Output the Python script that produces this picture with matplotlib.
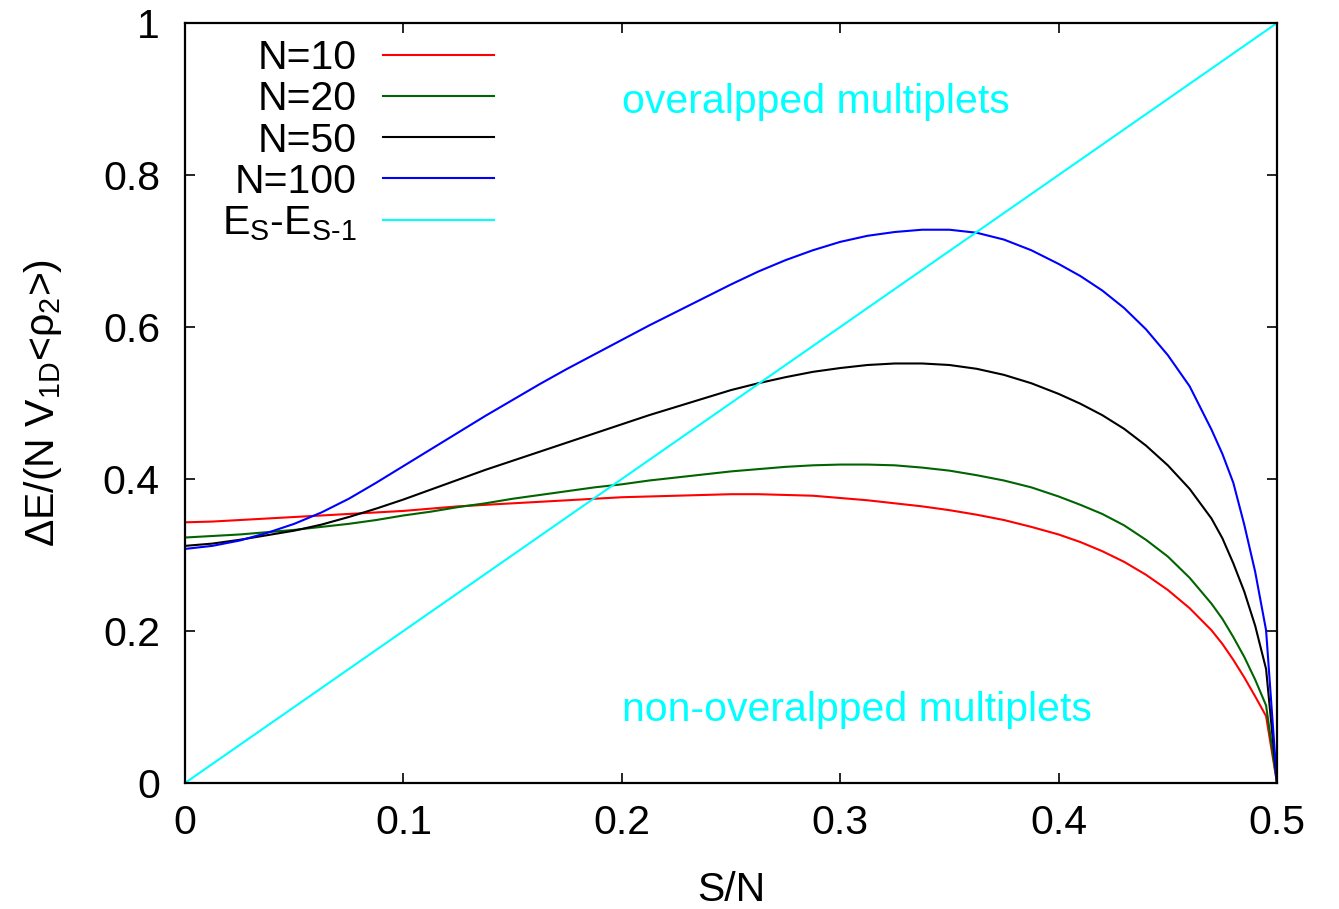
import matplotlib
matplotlib.use("Agg")
import matplotlib.pyplot as plt

plt.rcParams['font.family'] = ['Liberation Sans', 'DejaVu Sans']
plt.rcParams['mathtext.fontset'] = 'custom'
plt.rcParams['mathtext.rm'] = 'Liberation Sans'
plt.rcParams['mathtext.it'] = 'Liberation Sans'
plt.rcParams['mathtext.bf'] = 'Liberation Sans:bold'
plt.rcParams['mathtext.default'] = 'regular'

# S/N sample points
s_over_n = [0.0, 0.0125, 0.025, 0.0375, 0.05, 0.0625, 0.075, 0.0875,
            0.1, 0.1125, 0.125, 0.1375, 0.15, 0.1625, 0.175, 0.1875,
            0.2, 0.2125, 0.225, 0.2375, 0.25, 0.2625, 0.275, 0.2875,
            0.3, 0.3125, 0.325, 0.3375, 0.35, 0.3625, 0.375, 0.3875,
            0.4, 0.41, 0.42, 0.43, 0.44, 0.45, 0.46, 0.47,
            0.475, 0.48, 0.485, 0.49, 0.495, 0.5]

# Normalised level spacing for each chain length
gap_n10 = [0.343, 0.344, 0.346, 0.348, 0.350, 0.352, 0.354, 0.356,
           0.358, 0.361, 0.364, 0.366, 0.368, 0.370, 0.372, 0.374,
           0.376, 0.377, 0.378, 0.379, 0.380, 0.380, 0.379, 0.378,
           0.375, 0.372, 0.368, 0.364, 0.359, 0.353, 0.346, 0.337,
           0.327, 0.317, 0.305, 0.291, 0.274, 0.254, 0.230, 0.201,
           0.183, 0.162, 0.139, 0.114, 0.088, 0.0]
gap_n20 = [0.323, 0.325, 0.327, 0.330, 0.333, 0.337, 0.341, 0.346,
           0.352, 0.357, 0.363, 0.368, 0.374, 0.379, 0.384, 0.389,
           0.393, 0.398, 0.402, 0.406, 0.410, 0.413, 0.416, 0.418,
           0.419, 0.419, 0.418, 0.415, 0.411, 0.405, 0.398, 0.389,
           0.377, 0.366, 0.354, 0.339, 0.320, 0.298, 0.270, 0.236,
           0.216, 0.192, 0.166, 0.136, 0.102, 0.0]
gap_n50 = [0.312, 0.315, 0.320, 0.326, 0.332, 0.340, 0.350, 0.361,
           0.373, 0.386, 0.399, 0.412, 0.424, 0.436, 0.448, 0.460,
           0.472, 0.484, 0.495, 0.506, 0.517, 0.526, 0.534, 0.541,
           0.546, 0.550, 0.552, 0.552, 0.550, 0.545, 0.537, 0.526,
           0.512, 0.499, 0.484, 0.466, 0.444, 0.418, 0.387, 0.348,
           0.322, 0.289, 0.252, 0.207, 0.150, 0.0]
gap_n100 = [0.308, 0.312, 0.319, 0.329, 0.341, 0.356, 0.374, 0.395,
            0.417, 0.439, 0.461, 0.483, 0.504, 0.525, 0.545, 0.564,
            0.583, 0.602, 0.620, 0.638, 0.656, 0.673, 0.688, 0.701,
            0.712, 0.720, 0.725, 0.728, 0.728, 0.724, 0.715, 0.701,
            0.683, 0.667, 0.648, 0.625, 0.597, 0.563, 0.522, 0.465,
            0.433, 0.395, 0.340, 0.278, 0.201, 0.0]

# Multiplet separation E_S - E_{S-1}
sep_x = [0.0, 0.5]
sep_y = [0.0, 1.0]

series = [
    ("N=10", gap_n10, "#ff0000"),
    ("N=20", gap_n20, "#006400"),
    ("N=50", gap_n50, "#000000"),
    ("N=100", gap_n100, "#0000ff"),
]

xticks = [0, 0.1, 0.2, 0.3, 0.4, 0.5]
xticklabels = ["0", "0.1", "0.2", "0.3", "0.4", "0.5"]
yticks = [0, 0.2, 0.4, 0.6, 0.8, 1.0]
yticklabels = ["0", "0.2", "0.4", "0.6", "0.8", "1"]

FS = 29.5
W, H = 1339, 909
fig = plt.figure(figsize=(W / 100, H / 100), dpi=100)
ax = fig.add_axes([185 / W, 1 - 783 / H, (1277 - 185) / W, (783 - 23) / H])

for label, vals, col in series:
    ax.plot(s_over_n, vals, color=col, lw=1.5, label=label)
ax.plot(sep_x, sep_y, color="#00ffff", lw=1.5, label=r"E$_S$-E$_{S\text{-}1}$")

ax.set_xlim(0, 0.5)
ax.set_ylim(0, 1)
ax.set_xticks(xticks)
ax.set_xticklabels(xticklabels)
ax.set_yticks(yticks)
ax.set_yticklabels(yticklabels)
ax.tick_params(direction="in", length=7, width=1.2, labelsize=FS,
               top=True, right=True)
ax.tick_params(axis="x", pad=15)
ax.tick_params(axis="y", pad=18)
for sp in ax.spines.values():
    sp.set_linewidth(1.6)

ax.set_xlabel("S/N", fontsize=FS, labelpad=21)
ax.set_ylabel(r"ΔE/(N V$_{1D}$<ρ$_2$>)", fontsize=FS, labelpad=28)

ax.text(0.2, 0.882, "overalpped multiplets", color="#00ffff", fontsize=FS,
        va="baseline", ha="left")
ax.text(0.2, 0.0816, "non-overalpped multiplets", color="#00ffff", fontsize=FS,
        va="baseline", ha="left")

leg = ax.legend(loc="upper right", bbox_to_anchor=(494 / W, 1 - 39 / H),
                bbox_transform=fig.transFigure, frameon=False, fontsize=FS,
                markerfirst=False, handlelength=2.7, handletextpad=0.65,
                labelspacing=0.08, borderpad=0, borderaxespad=0)

fig.savefig("out.png", dpi=100)
